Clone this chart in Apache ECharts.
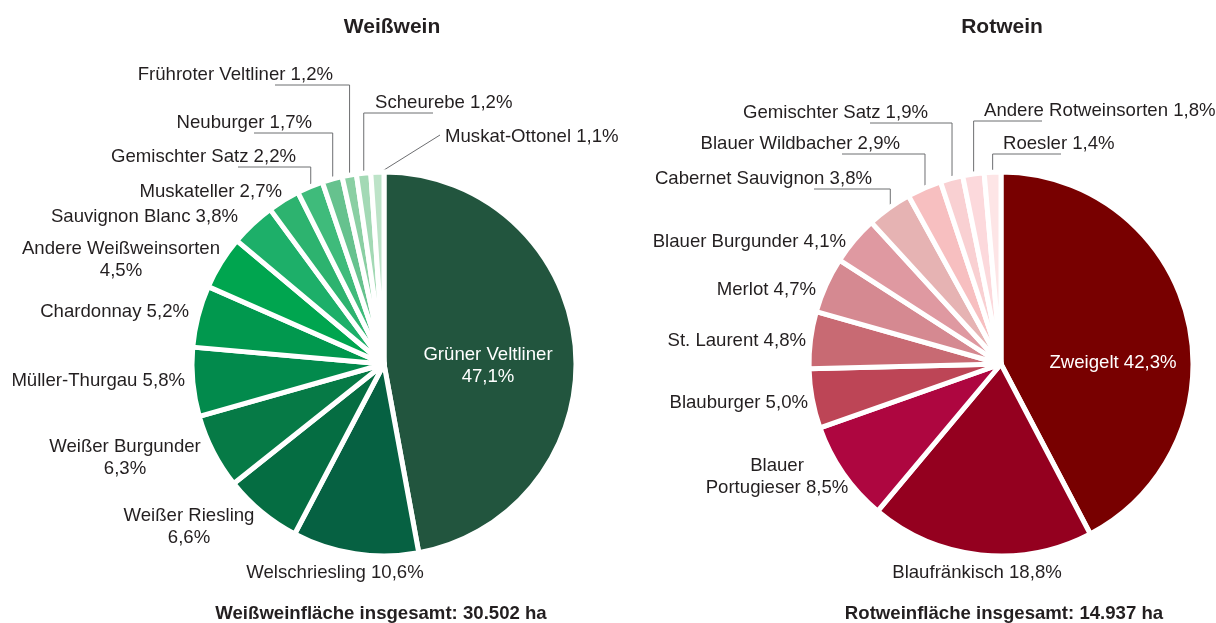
<!DOCTYPE html>
<html lang="de">

<head>
  <meta charset="UTF-8">
  <title>Rebsorten Weißwein / Rotwein</title>
  <style>
    body { margin: 0; background: #fff; }
  </style>
</head>

<body>
  <div id="main" style="width: 1216px;height:623px;"></div>
  <script src="https://cdn.jsdelivr.net/npm/echarts@6/dist/echarts.min.js"></script>
  <script>
    // Anteile an der Rebfläche in %
    const whiteNames = ['Grüner Veltliner', 'Welschriesling', 'Weißer Riesling', 'Weißer Burgunder',
      'Müller-Thurgau', 'Chardonnay', 'Andere Weißweinsorten', 'Sauvignon Blanc', 'Muskateller',
      'Gemischter Satz', 'Neuburger', 'Frühroter Veltliner', 'Scheurebe', 'Muskat-Ottonel'
    ];
    const whiteShares = [47.1, 10.6, 6.6, 6.3, 5.8, 5.2, 4.5, 3.8, 2.7, 2.2, 1.7, 1.2, 1.2, 1.1];

    const redNames = ['Zweigelt', 'Blaufränkisch', 'Blauer Portugieser', 'Blauburger', 'St. Laurent',
      'Merlot', 'Blauer Burgunder', 'Cabernet Sauvignon', 'Blauer Wildbacher', 'Gemischter Satz',
      'Andere Rotweinsorten', 'Roesler'
    ];
    const redShares = [42.3, 18.8, 8.5, 5.0, 4.8, 4.7, 4.1, 3.8, 2.9, 1.9, 1.8, 1.4];

    const whiteTotal = '30.502';
    const redTotal = '14.937';

    const whiteColors = ['#22553e', '#066142', '#056d42', '#067a46', '#028a4c', '#01984e', '#00a54f',
      '#1daf69', '#2db36f', '#3fbb7b', '#66c28e', '#8acfa3', '#a3d9b5', '#bde3c8'
    ];
    const redColors = ['#780000', '#94001f', '#ae0640', '#bd4556', '#c86a73', '#d58991', '#df99a1',
      '#e6b3b3', '#f7bfc0', '#f9d0d2', '#fcd9dc', '#fde5e6'
    ];

    // Beschriftung: [x, y, Ausrichtung, Linie, Umbruch]
    const whiteLabelPos = [
      [488, 366, 'center', 'inside', 'value'],
      [335, 573, 'center', '', ''],
      [189, 527, 'center', '', 'value'],
      [125, 458, 'center', '', 'value'],
      [185, 381, 'right', '', ''],
      [189, 312, 'right', '', ''],
      [121, 260, 'center', '', 'value'],
      [238, 217, 'right', '', ''],
      [282, 192, 'right', '', ''],
      [296, 157, 'right', 'elbow', ''],
      [312, 123, 'right', 'elbow', ''],
      [333, 75, 'right', 'elbow', ''],
      [375, 103, 'left', 'elbow', ''],
      [445, 137, 'left', 'diag', '']
    ];
    const redLabelPos = [
      [1113, 363, 'center', 'inside', ''],
      [977, 573, 'center', '', ''],
      [777, 477, 'center', '', 'name'],
      [808, 403, 'right', '', ''],
      [806, 341, 'right', '', ''],
      [816, 290, 'right', '', ''],
      [846, 242, 'right', '', ''],
      [872, 179, 'right', 'elbow', ''],
      [900, 144, 'right', 'elbow', ''],
      [928, 113, 'right', 'elbow', ''],
      [984, 111, 'left', 'elbow', ''],
      [1003, 144, 'left', 'elbow', '']
    ];

    const FONT = "'Liberation Sans', Arial, Helvetica, sans-serif";
    const TEXT = '#231f20';
    const R = 192;
    const whiteCenter = [384, 364];
    const redCenter = [1001, 364];

    const fmtPct = (v) => v.toFixed(1).replace('.', ',') + '%';

    function buildData(names, shares, colors, pos) {
      return names.map((n, i) => {
        const item = {
          name: n,
          value: shares[i],
          itemStyle: { color: colors[i] },
          labelLine: { show: pos[i][3] === 'elbow' || pos[i][3] === 'diag' }
        };
        if (pos[i][3] === 'inside') {
          item.label = { position: 'inside', color: '#fff' };
        }
        return item;
      });
    }

    function makeSeries(names, shares, colors, pos, center) {
      const total = shares.reduce((a, b) => a + b, 0);
      const cum = [];
      shares.reduce((acc, v, i) => { cum[i] = acc; return acc + v; }, 0);
      return {
        type: 'pie',
        center: center,
        radius: R,
        startAngle: 90,
        clockwise: true,
        avoidLabelOverlap: false,
        animation: false,
        emphasis: { disabled: true },
        itemStyle: { borderColor: '#fff', borderWidth: 5 },
        label: {
          show: true,
          position: 'outside',
          color: TEXT,
          fontFamily: FONT,
          fontSize: 18.6,
          lineHeight: 22,
          formatter: (p) => {
            const w = pos[p.dataIndex][4];
            if (w === 'value') return p.name + '\n' + fmtPct(p.value);
            if (w === 'name') return p.name.replace(' ', '\n') + ' ' + fmtPct(p.value);
            return p.name + ' ' + fmtPct(p.value);
          }
        },
        labelLine: {
          length: 5,
          length2: 5,
          smooth: false,
          lineStyle: { color: '#6d6e71', width: 1 }
        },
        labelLayout: (params) => {
          const i = params.dataIndex;
          const p = pos[i];
          const out = { x: p[0], y: p[1], align: p[2], verticalAlign: 'middle' };
          // Punkt am Rand des Segments
          const a = (cum[i] + shares[i] / 2) / total * Math.PI * 2;
          const px = center[0] + (R - 2) * Math.sin(a);
          const py = center[1] - (R - 2) * Math.cos(a);
          if (p[3] === 'elbow') {
            const ly = p[1] + 10;
            const hx = p[2] === 'right' ? p[0] - 58 : p[0] + 58;
            out.labelLinePoints = [[px, py], [px, ly], [hx, ly]];
          } else if (p[3] === 'diag') {
            out.labelLinePoints = [[px, py], [px, py], [p[0] - 5, p[1] - 2]];
          }
          return out;
        },
        data: buildData(names, shares, colors, pos)
      };
    }

    const titleStyle = (size) => ({ fontSize: size, fontWeight: 'bold', color: TEXT, fontFamily: FONT });

    const myChart = echarts.init(document.getElementById('main'));

    const option = {
      backgroundColor: '#fff',
      animation: false,
      title: [
        { text: 'Weißwein', left: 392, top: 17, textAlign: 'center', padding: 0, textStyle: titleStyle(21) },
        { text: 'Rotwein', left: 1002, top: 17, textAlign: 'center', padding: 0, textStyle: titleStyle(21) },
        { text: 'Weißweinfläche insgesamt: ' + whiteTotal + ' ha', left: 381, top: 604, textAlign: 'center', padding: 0, textStyle: titleStyle(18.6) },
        { text: 'Rotweinfläche insgesamt: ' + redTotal + ' ha', left: 1004, top: 604, textAlign: 'center', padding: 0, textStyle: titleStyle(18.6) }
      ],
      series: [
        makeSeries(whiteNames, whiteShares, whiteColors, whiteLabelPos, whiteCenter),
        makeSeries(redNames, redShares, redColors, redLabelPos, redCenter)
      ]
    };

    myChart.setOption(option);
  </script>
</body>

</html>
